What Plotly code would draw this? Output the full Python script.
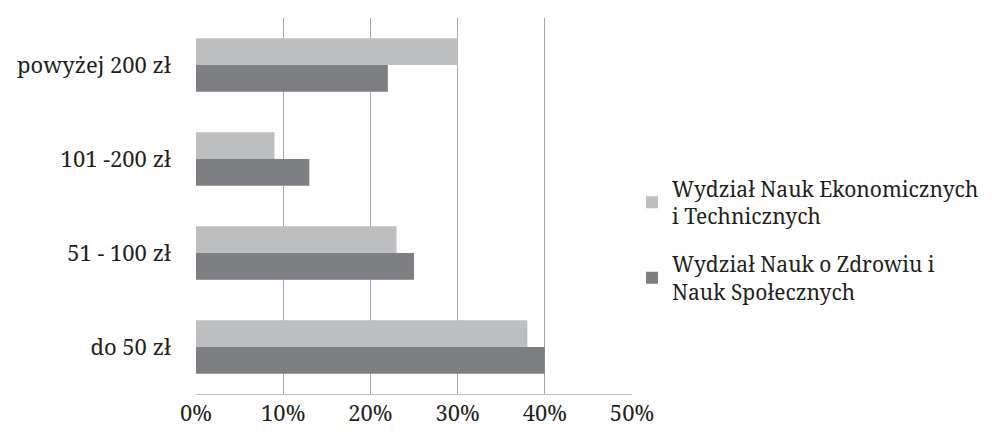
import plotly.graph_objects as go

categories = ["do 50 zł", "51 - 100 zł", "101 -200 zł", "powyżej 200 zł"]
zdrowie = [40, 25, 13, 22]          # Wydział Nauk o Zdrowiu i Nauk Społecznych
ekonomia = [38, 23, 9, 30]          # Wydział Nauk Ekonomicznych i Technicznych
x_ticks = [0, 10, 20, 30, 40, 50]
x_tick_labels = ["0%", "10%", "20%", "30%", "40%", "50%"]

FONT = "Noto Serif"

fig = go.Figure()
fig.add_trace(go.Bar(
    y=categories, x=zdrowie, orientation="h",
    name="Wydział Nauk o Zdrowiu i<br>Nauk Społecznych",
    legendgroup="zdrowie", legendrank=2,
    marker=dict(color="#7e7f82", line=dict(width=0)),
))
fig.add_trace(go.Bar(
    y=categories, x=ekonomia, orientation="h",
    name="Wydział Nauk Ekonomicznych<br>i Technicznych",
    legendgroup="ekonomia", legendrank=1,
    marker=dict(color="#bdbec0", line=dict(width=0)),
))

fig.update_layout(
    width=1003, height=437,
    margin=dict(l=196, r=371, t=18, b=43, autoexpand=False),
    paper_bgcolor="white", plot_bgcolor="white",
    barmode="group", bargap=0.43, bargroupgap=0,
    font=dict(family=FONT, size=22, color="#231f20"),
    showlegend=True,
    legend=dict(
        x=1.0, y=0.6, xanchor="left", yanchor="top",
        traceorder="grouped", tracegroupgap=18,
        font=dict(family=FONT, size=21, color="#231f20"),
        itemwidth=30,
    ),
    xaxis=dict(
        range=[0, 50], tickvals=x_ticks, ticktext=x_tick_labels,
        showgrid=True, gridcolor="#a6a6a6", gridwidth=1,
        zeroline=False, showline=True, linecolor="#bfbfbf", linewidth=1,
        ticks="", ticklabelstandoff=0, automargin=False,
    ),
    yaxis=dict(
        showgrid=False, zeroline=False, showline=False,
        ticks="", ticklabelstandoff=24, automargin=False,
    ),
)

fig.write_html("out.html")
